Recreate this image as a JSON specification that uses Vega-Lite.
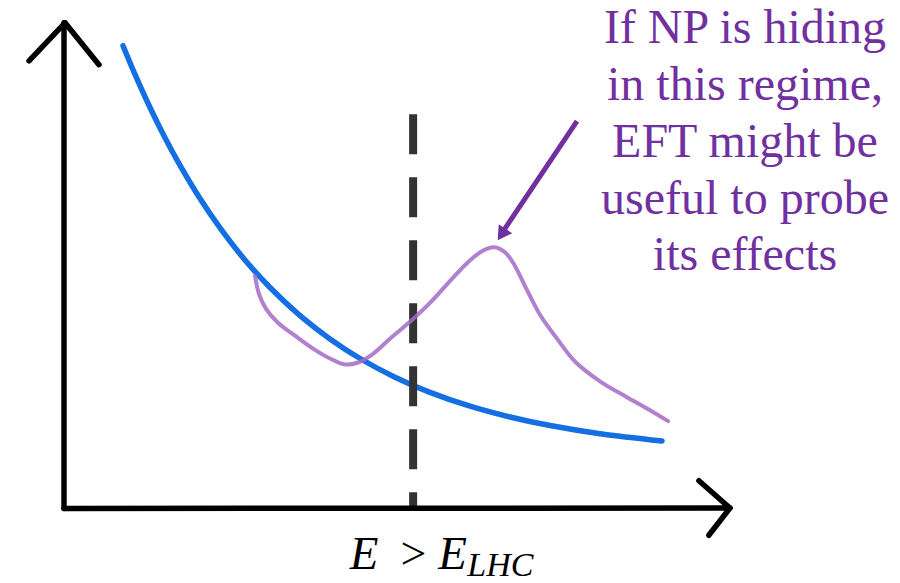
{
  "$schema": "https://vega.github.io/schema/vega-lite/v6.json",
  "width": 900,
  "height": 583,
  "autosize": {"type": "fit", "contains": "padding"},
  "padding": 0,
  "background": "white",
  "config": {"view": {"stroke": null}},
  "datasets": {
    "sm_rate": [
      {"x": 0.894, "y": 9.51}, {"x": 1.076, "y": 8.92}, {"x": 1.303, "y": 8.239},
      {"x": 1.53, "y": 7.618}, {"x": 1.758, "y": 7.051}, {"x": 2.061, "y": 6.369},
      {"x": 2.364, "y": 5.765}, {"x": 2.742, "y": 5.106}, {"x": 3.121, "y": 4.541},
      {"x": 3.576, "y": 3.963}, {"x": 4.03, "y": 3.484}, {"x": 4.485, "y": 3.082},
      {"x": 5.015, "y": 2.698}, {"x": 5.545, "y": 2.386}, {"x": 6.152, "y": 2.102},
      {"x": 6.758, "y": 1.88}, {"x": 7.364, "y": 1.704}, {"x": 8.121, "y": 1.537},
      {"x": 9.061, "y": 1.388}
    ],
    "np_bump": [
      {"x": 2.894, "y": 4.776}, {"x": 2.955, "y": 4.408}, {"x": 3.061, "y": 4.102},
      {"x": 3.242, "y": 3.816}, {"x": 3.5, "y": 3.551}, {"x": 3.773, "y": 3.286},
      {"x": 4.03, "y": 3.082}, {"x": 4.258, "y": 2.959}, {"x": 4.455, "y": 3.0},
      {"x": 4.667, "y": 3.163}, {"x": 4.939, "y": 3.49}, {"x": 5.242, "y": 3.837},
      {"x": 5.545, "y": 4.224}, {"x": 5.848, "y": 4.673}, {"x": 6.121, "y": 5.061},
      {"x": 6.333, "y": 5.286}, {"x": 6.515, "y": 5.367}, {"x": 6.682, "y": 5.265},
      {"x": 6.818, "y": 5.02}, {"x": 6.985, "y": 4.571}, {"x": 7.212, "y": 3.98},
      {"x": 7.47, "y": 3.49}, {"x": 7.742, "y": 3.02}, {"x": 8.121, "y": 2.612},
      {"x": 8.53, "y": 2.286}, {"x": 8.879, "y": 2.02}, {"x": 9.152, "y": 1.796}
    ],
    "lhc_reach": [{"x": 5.29, "y": 8.1, "y2": 0}],
    "axes": [
      {"x": 0, "y": 0, "x2": 0, "y2": 9.98},
      {"x": -0.53, "y": 9.2, "x2": 0.015, "y2": 9.98},
      {"x": 0.53, "y": 9.12, "x2": 0.015, "y2": 9.98},
      {"x": 0, "y": 0, "x2": 10.08, "y2": 0.01},
      {"x": 9.62, "y": 0.57, "x2": 10.09, "y2": 0.01},
      {"x": 9.77, "y": -0.55, "x2": 10.09, "y2": 0.01}
    ],
    "pointer": [{"x": 7.773, "y": 7.96, "x2": 6.65, "y2": 5.69}],
    "pointer_head": [{"x": 6.63, "y": 5.63}],
    "note": [
      {"x": 10.318, "y": 9.571, "text": "If NP is hiding"},
      {"x": 10.318, "y": 8.388, "text": "in this regime,"},
      {"x": 10.318, "y": 7.224, "text": "EFT might be"},
      {"x": 10.318, "y": 6.061, "text": "useful to probe"},
      {"x": 10.318, "y": 4.898, "text": "its effects"}
    ],
    "label_main": [
      {"x": 4.33, "y": -1.245, "text": "E"},
      {"x": 5.67, "y": -1.245, "text": "E"}
    ],
    "label_op": [{"x": 5.1, "y": -1.245, "text": ">"}],
    "label_sub": [{"x": 6.11, "y": -1.38, "text": "LHC"}]
  },
  "encoding": {
    "x": {"field": "x", "type": "quantitative", "axis": null,
          "scale": {"domain": [-0.9697, 12.6667], "nice": false, "zero": false}},
    "y": {"field": "y", "type": "quantitative", "axis": null,
          "scale": {"domain": [-1.449, 10.449], "nice": false, "zero": false}}
  },
  "layer": [
    {
      "data": {"name": "sm_rate"},
      "mark": {"type": "line", "interpolate": "catmull-rom", "color": "#136fe2",
               "strokeWidth": 5.5, "strokeCap": "round"}
    },
    {
      "data": {"name": "lhc_reach"},
      "mark": {"type": "rule", "color": "#333333", "strokeWidth": 8,
               "strokeDash": [40, 23], "strokeCap": "butt"},
      "encoding": {"y2": {"field": "y2"}}
    },
    {
      "data": {"name": "np_bump"},
      "mark": {"type": "line", "interpolate": "catmull-rom", "color": "#a36ac7",
               "strokeWidth": 4, "opacity": 0.85, "strokeCap": "round", "strokeJoin": "round"}
    },
    {
      "data": {"name": "pointer"},
      "mark": {"type": "rule", "color": "#7030a0", "strokeWidth": 5, "strokeCap": "butt"},
      "encoding": {"x2": {"field": "x2"}, "y2": {"field": "y2"}}
    },
    {
      "data": {"name": "pointer_head"},
      "mark": {"type": "point", "shape": "triangle-up", "filled": true, "color": "#7030a0",
               "opacity": 1, "size": 260, "angle": 213.5}
    },
    {
      "data": {"name": "axes"},
      "mark": {"type": "rule", "color": "black", "strokeWidth": 5.5, "strokeCap": "round"},
      "encoding": {"x2": {"field": "x2"}, "y2": {"field": "y2"}}
    },
    {
      "data": {"name": "note"},
      "mark": {"type": "text", "font": "Liberation Serif", "fontSize": 48,
               "color": "#7030a0", "align": "center", "baseline": "alphabetic"},
      "encoding": {"text": {"field": "text"}}
    },
    {
      "data": {"name": "label_main"},
      "mark": {"type": "text", "font": "Liberation Serif", "fontStyle": "italic", "fontSize": 47,
               "color": "black", "align": "left", "baseline": "alphabetic"},
      "encoding": {"text": {"field": "text"}}
    },
    {
      "data": {"name": "label_op"},
      "mark": {"type": "text", "font": "Liberation Serif", "fontSize": 46,
               "color": "black", "align": "left", "baseline": "alphabetic"},
      "encoding": {"text": {"field": "text"}}
    },
    {
      "data": {"name": "label_sub"},
      "mark": {"type": "text", "font": "Liberation Serif", "fontStyle": "italic", "fontSize": 34,
               "color": "black", "align": "left", "baseline": "alphabetic"},
      "encoding": {"text": {"field": "text"}}
    }
  ]
}
